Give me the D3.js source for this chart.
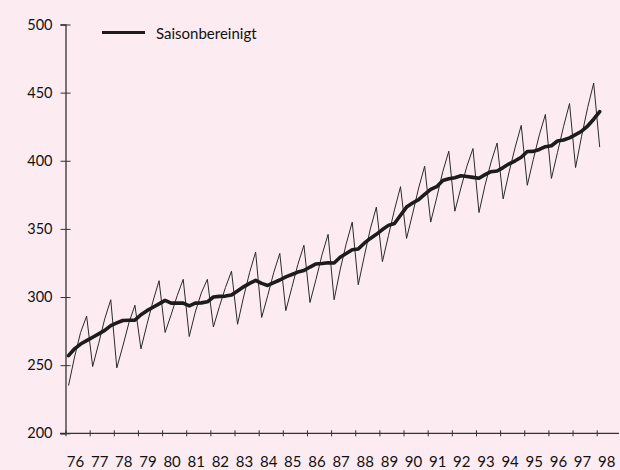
<!DOCTYPE html>
<html>
<head>
<meta charset="utf-8">
<script src="https://cdn.jsdelivr.net/npm/d3@7"></script>
<style>
  body { margin: 0; background: #fcecf1; }
  #maincontent { width: 620px; height: 470px; }
</style>
</head>
<body>
<div id="maincontent"></div>
<script>
// years on the x axis
var years = [1976, 1977, 1978, 1979, 1980, 1981, 1982, 1983, 1984, 1985, 1986, 1987,
             1988, 1989, 1990, 1991, 1992, 1993, 1994, 1995, 1996, 1997, 1998];
var yTicks = [200, 250, 300, 350, 400, 450, 500];
var legendLabel = "Saisonbereinigt";

// quarterly raw values, 1976 Q1 .. 1998 Q1
var original = [
  235, 256, 274, 286,
  249, 266, 284, 298,
  248, 264, 281, 294,
  262, 280, 297, 312,
  274, 287, 301, 313,
  271, 289, 303, 313,
  278, 293, 307, 319,
  280, 300, 318, 333,
  285, 301, 318, 332,
  290, 307, 324, 338,
  296, 313, 331, 346,
  298, 320, 339, 355,
  309, 330, 350, 366,
  326, 345, 364, 381,
  343, 361, 380, 396,
  355, 373, 392, 407,
  363, 380, 396, 409,
  362, 382, 399, 413,
  372, 392, 410, 426,
  382, 401, 419, 434,
  387, 406, 425, 442,
  395, 418, 439, 457,
  410
];

// seasonally adjusted, same quarters
var adjusted = [
  257, 262, 265.5, 268,
  270.5, 273, 275.5, 279,
  281, 282.8, 283, 283,
  287, 290, 292.5, 295,
  297.5, 295.5, 295.5, 295.5,
  293.5, 295.5, 295.7, 296.5,
  300, 300.5, 300.7, 301.5,
  304.5, 307.5, 310, 312.2,
  310, 308.5, 310.5, 312.5,
  314.8, 316.5, 318.3, 319.5,
  322, 324.3, 324.6, 325.2,
  325, 329.2, 332, 334.7,
  335.3, 339.5, 343, 346,
  349.5, 352.6, 354, 360,
  366, 369, 371.5, 375.4,
  379, 381, 385.5, 386.8,
  387.6, 389, 388.5, 387.8,
  387.2, 389.8, 392, 392.5,
  395, 397.8, 400, 402.6,
  406.8, 406.9, 408.3, 410.3,
  411, 414.5, 415.2, 416.8,
  419.2, 421.7, 425.5, 430.5,
  436
];

var w = 620;
var h = 470;

var svg = d3.select("#maincontent")
            .append("svg")
            .attr("width", w)
            .attr("height", h)
            .style("font-family", "Lato, 'Open Sans', sans-serif");

svg.append("rect")
   .attr("width", w)
   .attr("height", h)
   .attr("fill", "#fcecf1");

var x = d3.scaleLinear().domain([1976, 1998]).range([65.5, 596.7]);
var y = d3.scaleLinear().domain([200, 500]).range([433.3, 24.5]);

// quarter index -> middle of the quarter
function qx(d, i) { return x(1976 + (i + 0.5) / 4); }

// y axis, ticks crossing the line
var yAxis = svg.append("g")
   .attr("transform", "translate(65.5,0)")
   .call(d3.axisLeft(y).tickValues(yTicks).tickSize(5).tickPadding(8));
yAxis.select(".domain").attr("stroke", "#333").attr("stroke-width", 1.3);
yAxis.selectAll("line").attr("x1", 5).attr("x2", -5).attr("stroke", "#333");
yAxis.selectAll("text")
   .attr("font-size", "14.5px")
   .attr("fill", "#111")
   .attr("font-family", "Lato, sans-serif");

// x axis
var xAxis = svg.append("g")
   .attr("transform", "translate(0,433.3)")
   .call(d3.axisBottom(x).tickValues(years).tickSize(3)
         .tickFormat(function(d) { return String(d).slice(2); }));
xAxis.select(".domain").remove();
xAxis.selectAll("line").attr("y1", -3).attr("y2", 3).attr("stroke", "#333");
xAxis.selectAll("text")
   .attr("x", 9.5)
   .attr("y", 33.5)
   .attr("dy", 0)
   .attr("font-size", "15px")
   .attr("fill", "#111")
   .attr("font-family", "Lato, sans-serif");
xAxis.append("line")
   .attr("x1", 60).attr("x2", 619)
   .attr("y1", 0).attr("y2", 0)
   .attr("stroke", "#333")
   .attr("stroke-width", 1.2);

// thin raw series
svg.append("path")
   .datum(original)
   .attr("fill", "none")
   .attr("stroke", "#2a2a2a")
   .attr("stroke-width", 1)
   .attr("stroke-linejoin", "miter")
   .attr("d", d3.line().x(qx).y(function(d) { return y(d); }));

// thick adjusted series
svg.append("path")
   .datum(adjusted)
   .attr("fill", "none")
   .attr("stroke", "#1c1c1c")
   .attr("stroke-width", 3.6)
   .attr("stroke-linejoin", "round")
   .attr("stroke-linecap", "round")
   .attr("d", d3.line().x(qx).y(function(d) { return y(d); }));

// legend
svg.append("line")
   .attr("x1", 102).attr("x2", 145)
   .attr("y1", 32.5).attr("y2", 32.5)
   .attr("stroke", "#1c1c1c")
   .attr("stroke-width", 3.2);
svg.append("text")
   .text(legendLabel)
   .attr("x", 156)
   .attr("y", 38.5)
   .attr("font-size", "15px")
   .attr("fill", "#111");
</script>
</body>
</html>
